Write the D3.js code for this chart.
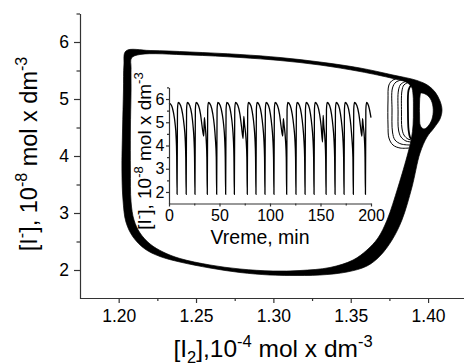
<!DOCTYPE html>
<html><head><meta charset="utf-8">
<script src="https://cdn.jsdelivr.net/npm/d3@7"></script>
<style>
html,body{margin:0;padding:0;background:#fff;}
svg{display:block;}
text{font-family:"Liberation Sans",Arial,sans-serif;fill:#000;}
</style>
</head><body>
<svg id="c" width="464" height="364"></svg>
<script>
// ---------- DATA ----------
// Main phase portrait: [I2] (1e-4 mol dm-3) vs [I-] (1e-8 mol dm-3)
// outermost and innermost traced cycles of the limit-cycle band
const cycleOuter = [[1.2047,5.842],[1.2203,5.851],[1.2461,5.825],[1.2784,5.781],[1.3043,5.728],[1.3301,5.649],[1.3560,5.544],[1.3773,5.421],[1.3928,5.325],[1.4000,5.237],[1.4045,5.123],[1.4077,4.965],[1.4090,4.807],[1.4077,4.649],[1.4038,4.491],[1.3993,4.333],[1.3948,4.053],[1.3896,3.456],[1.3831,2.877],[1.3767,2.526],[1.3689,2.246],[1.3605,2.070],[1.3476,1.965],[1.3301,1.912],[1.3107,1.904],[1.2978,1.912],[1.2784,1.956],[1.2590,2.035],[1.2396,2.140],[1.2267,2.237],[1.2170,2.368],[1.2093,2.579],[1.2047,2.842],[1.2028,3.228],[1.2021,3.754],[1.2025,4.456],[1.2031,5.158],[1.2034,5.596]];
const cycleInner = [[1.2083,5.719],[1.2138,5.781],[1.2461,5.772],[1.2784,5.728],[1.3043,5.675],[1.3301,5.596],[1.3560,5.482],[1.3773,5.360],[1.3857,5.298],[1.3893,5.211],[1.3903,5.070],[1.3905,4.807],[1.3903,4.544],[1.3893,4.316],[1.3870,4.053],[1.3806,3.456],[1.3735,2.877],[1.3676,2.561],[1.3605,2.351],[1.3515,2.175],[1.3366,2.044],[1.3172,1.991],[1.2998,1.982],[1.2784,2.018],[1.2590,2.088],[1.2396,2.202],[1.2287,2.316],[1.2203,2.456],[1.2138,2.649],[1.2099,2.877],[1.2080,3.193],[1.2076,3.754],[1.2076,4.456],[1.2080,5.158],[1.2080,5.544]];
// opening inside the right-hand turning loop
const turnLoopHole = [[1.3954,5.105],[1.3987,5.079],[1.4016,5.000],[1.4032,4.860],[1.4029,4.684],[1.4006,4.544],[1.3974,4.474],[1.3951,4.526],[1.3945,4.719],[1.3945,4.947],[1.3948,5.053]];
// small-amplitude loops near the right side
const smallLoops = [
  [[1.3831,5.368],[1.3773,5.333],[1.3747,5.246],[1.3741,4.982],[1.3741,4.544],[1.3747,4.316],[1.3773,4.193],[1.3819,4.140],[1.3877,4.140]],
  [[1.3844,5.342],[1.3793,5.298],[1.3770,5.193],[1.3767,4.807],[1.3770,4.421],[1.3786,4.281],[1.3825,4.211],[1.3883,4.193]],
  [[1.3864,5.316],[1.3825,5.263],[1.3809,5.158],[1.3806,4.772],[1.3809,4.456],[1.3825,4.333],[1.3857,4.263],[1.3890,4.246]],
  [[1.3877,5.298],[1.3844,5.246],[1.3831,5.140],[1.3828,4.772],[1.3831,4.491],[1.3844,4.368],[1.3870,4.298],[1.3893,4.281]],
  [[1.3890,5.246],[1.3874,5.158],[1.3870,4.772],[1.3874,4.456],[1.3883,4.333],[1.3893,4.298]]
];
const smallLoopWidths = [1.0,1.0,1.0,1.0,1.8];

// Inset: time (min) vs [I-]
const insetSeries = [
[0,5.82],[2.5,5.72],[4.5,5.4],[6,4.95],[7,4.4],[7.6,3.6],[8,1.9],
[8.4,5.55],[9.1,5.85],[11.5,5.72],[13.5,5.35],[15,4.85],[16,4.3],[16.6,3.5],[17,1.9],
[17.4,5.55],[18.1,5.85],[20.5,5.72],[22.5,5.35],[23.8,4.85],[24.7,4.3],[25.3,3.5],[25.7,1.9],
[26.1,5.55],[26.8,5.85],[29.2,5.72],[31.2,5.35],[32.7,4.85],[34.4,4.4],[35.0,5.2],[35.7,4.9],[36.9,4.2],[37.5,3.5],[37.9,1.9],
[38.3,5.55],[39,5.85],[41.4,5.72],[43.4,5.35],[44.9,4.85],[45.9,4.3],[46.8,3.5],[47.2,1.9],
[47.6,5.55],[48.3,5.85],[50.7,5.72],[52.7,5.35],[54.2,4.85],[55.1,4.3],[55.7,3.5],[56.1,1.9],
[56.5,5.55],[57.2,5.85],[59.6,5.72],[61.4,5.35],[62.8,4.85],[63.7,4.3],[64.3,3.5],[64.7,1.9],
[65.1,5.55],[65.8,5.85],[68.2,5.72],[70.2,5.35],[71.7,4.85],[73.4,4.3],[74.0,5.25],[74.8,4.9],[76.4,4.2],[77.1,3.5],[77.5,1.9],
[77.9,5.55],[78.6,5.85],[81,5.72],[82.8,5.35],[84.2,4.85],[85.1,4.3],[85.7,3.5],[86.1,1.9],
[86.5,5.55],[87.2,5.85],[89.6,5.72],[91.5,5.35],[92.9,4.85],[93.9,4.3],[94.6,3.5],[95,1.9],
[95.4,5.55],[96.1,5.85],[98.5,5.72],[100.4,5.35],[101.8,4.85],[102.8,4.3],[103.5,3.5],[103.9,1.9],
[104.3,5.55],[105,5.85],[107.4,5.72],[109.4,5.35],[110.9,4.85],[112.6,4.4],[113.2,5.15],[113.9,4.9],[115.4,4.2],[116.1,3.5],[116.5,1.9],
[116.9,5.55],[117.6,5.85],[120,5.72],[122,5.35],[123.5,4.85],[124.6,4.3],[125.3,3.5],[125.7,1.9],
[126.1,5.55],[126.8,5.85],[129.2,5.72],[131.1,5.35],[132.5,4.85],[133.5,4.3],[134.3,3.5],[134.7,1.9],
[135.1,5.55],[135.8,5.85],[138.2,5.72],[140.1,5.35],[141.5,4.85],[142.5,4.3],[143.2,3.5],[143.6,1.9],
[144,5.55],[144.7,5.85],[147.1,5.72],[149.1,5.35],[150.6,4.85],[152.0,4.15],[152.6,5.3],[153.2,4.9],[154.5,4.2],[155.1,3.5],[155.5,1.9],
[155.9,5.55],[156.6,5.85],[159,5.72],[160.9,5.35],[162.3,4.85],[163.3,4.3],[164,3.5],[164.4,1.9],
[164.8,5.55],[165.5,5.85],[167.9,5.72],[169.8,5.35],[171.2,4.85],[172.2,4.3],[172.9,3.5],[173.3,1.9],
[173.7,5.55],[174.4,5.85],[176.8,5.72],[178.7,5.35],[180.1,4.85],[181.1,4.3],[182.1,3.5],[182.5,1.9],
[182.9,5.55],[183.6,5.85],[186,5.72],[188,5.35],[189.5,4.85],[191.0,4.4],[191.6,5.15],[192.2,4.9],[193.6,4.2],[194.1,3.5],[194.5,1.9],
[194.9,5.55],[195.6,5.85],[197.5,5.72],[200,5.2]
];

// Ticks
const xTicksMain = [1.20,1.25,1.30,1.35,1.40];
const xMinorMain = [1.225,1.275,1.325,1.375];
const yTicksMain = [2,3,4,5,6];
const yMinorMain = [2.5,3.5,4.5,5.5,6.5];
const insetXTicks = [0,50,100,150,200];
const insetXMinor = [25,75,125,175];
const insetYTicks = [2,3,4,5,6];
const insetYMinor = [2.5,3.5,4.5,5.5,6.5];

// ---------- DRAW ----------
const svg = d3.select("#c");
const FONT = '"Liberation Sans",Arial,sans-serif';
const AXIS = "#333";

const x = d3.scaleLinear().domain([1.175,1.425]).range([80,466.75]);
const y = d3.scaleLinear().domain([1.5,6.5]).range([298.5,13.5]);

const closedLine = d3.line().x(d=>x(d[0])).y(d=>y(d[1])).curve(d3.curveCatmullRomClosed.alpha(0.5));
const openLine = d3.line().x(d=>x(d[0])).y(d=>y(d[1])).curve(d3.curveCatmullRom.alpha(0.5));

svg.append("path")
  .attr("d", closedLine(cycleOuter) + closedLine(cycleInner) + closedLine(turnLoopHole))
  .attr("fill","#000").attr("fill-rule","evenodd")
  .attr("stroke","#000").attr("stroke-width",0.7);

smallLoops.forEach((l,i)=>{
  svg.append("path").attr("d", openLine(l)).attr("fill","none")
    .attr("stroke","#000").attr("stroke-width", smallLoopWidths[i]);
});

function styleAxis(g, fs){
  g.attr("font-family", FONT).attr("font-size", fs);
  g.selectAll(".domain").attr("stroke", AXIS).attr("stroke-width",1.2);
  g.selectAll(".tick line").attr("stroke", AXIS).attr("stroke-width",1.2);
  g.selectAll(".tick text").attr("fill","#000");
}
function minor(g){ g.select(".domain").remove(); g.selectAll(".tick line").attr("stroke",AXIS).attr("stroke-width",1.2); }

// main axes
const gx = svg.append("g").attr("transform","translate(0,298)")
  .call(d3.axisBottom(x).tickValues(xTicksMain).tickFormat(d3.format(".2f")).tickSize(5).tickPadding(7).tickSizeOuter(0));
styleAxis(gx, 17.5);
svg.append("g").attr("transform","translate(0,298)")
  .call(d3.axisBottom(x).tickValues(xMinorMain).tickFormat("").tickSize(3).tickSizeOuter(0)).call(minor);
const gy = svg.append("g").attr("transform","translate(80,0)")
  .call(d3.axisLeft(y).tickValues(yTicksMain).tickFormat(d3.format("d")).tickSize(6).tickPadding(5).tickSizeOuter(0));
styleAxis(gy, 17.5);
svg.append("g").attr("transform","translate(80,0)")
  .call(d3.axisLeft(y).tickValues(yMinorMain).tickFormat("").tickSize(3.5).tickSizeOuter(0)).call(minor);

// rich text helper
function rich(g, parts, size, supSize, shift){
  const t = g.append("text").attr("font-family",FONT).attr("font-size",size).attr("text-anchor","middle");
  let cur = 0;
  parts.forEach(p=>{
    const off = p.sup ? -shift : (p.sub ? shift*0.55 : 0);
    const ts = t.append("tspan").text(p.t).attr("dy", off - cur);
    if(p.sup || p.sub) ts.attr("font-size", supSize);
    cur = off;
  });
  return t;
}

// main x title
rich(svg.append("g").attr("transform","translate(273,357)"),
  [{t:"[I"},{t:"2",sub:true},{t:"],10"},{t:"-4",sup:true},{t:" mol x dm"},{t:"-3",sup:true}], 24.5, 16.5, 10);
// main y title
rich(svg.append("g").attr("transform","translate(37,154) rotate(-90)"),
  [{t:"[I"},{t:"-",sup:true},{t:"], 10"},{t:"-8",sup:true},{t:" mol x dm"},{t:"-3",sup:true}], 23.5, 16, 10);

// ---------- INSET ----------
const ix = d3.scaleLinear().domain([0,200]).range([169,371]);
const iy = d3.scaleLinear().domain([1.5,6.5]).range([203.6,87.4]);

svg.append("path")
  .attr("d", d3.line().x(d=>ix(d[0])).y(d=>iy(d[1])).curve(d3.curveMonotoneX)(insetSeries))
  .attr("fill","none").attr("stroke","#000").attr("stroke-width",1.3);

const igx = svg.append("g").attr("transform","translate(0,203.5)")
  .call(d3.axisBottom(ix).tickValues(insetXTicks).tickFormat(d3.format("d")).tickSize(3).tickPadding(3).tickSizeOuter(0));
styleAxis(igx, 16);
svg.append("g").attr("transform","translate(0,203.5)")
  .call(d3.axisBottom(ix).tickValues(insetXMinor).tickFormat("").tickSize(2).tickSizeOuter(0)).call(minor);
const igy = svg.append("g").attr("transform","translate(169,0)")
  .call(d3.axisLeft(iy).tickValues(insetYTicks).tickFormat(d3.format("d")).tickSize(3).tickPadding(1.5).tickSizeOuter(0));
styleAxis(igy, 16);
svg.append("g").attr("transform","translate(169,0)")
  .call(d3.axisLeft(iy).tickValues(insetYMinor).tickFormat("").tickSize(2).tickSizeOuter(0)).call(minor);

svg.append("text").attr("x",260).attr("y",244).attr("text-anchor","middle")
  .attr("font-family",FONT).attr("font-size",19.5).text("Vreme, min");
rich(svg.append("g").attr("transform","translate(151,151) rotate(-90)"),
  [{t:"[I"},{t:"-",sup:true},{t:"], 10"},{t:"-8",sup:true},{t:" mol x dm"},{t:"-3",sup:true}], 19, 13, 8);
</script>
</body></html>
